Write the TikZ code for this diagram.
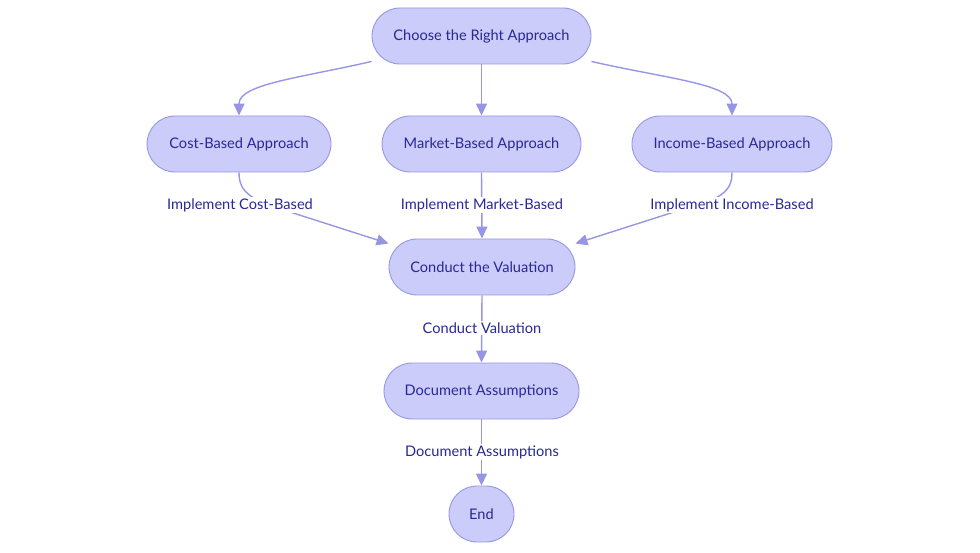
\documentclass[tikz,border=0pt]{standalone}
\usepackage{fontspec}
\setmainfont{Lato}
\usetikzlibrary{arrows.meta}
\definecolor{nodefill}{RGB}{204,204,250}
\definecolor{nodeline}{RGB}{150,150,228}
\definecolor{txt}{RGB}{40,40,150}
\definecolor{edge}{RGB}{150,150,228}
\tikzset{
  box/.style={draw=nodeline, fill=nodefill, line width=0.9pt, rounded corners=28pt,
    minimum height=56pt, inner sep=0pt, text=txt, font=\fontsize{14.6}{16}\selectfont},
  lbl/.style={fill=white, inner sep=1.5pt, text=txt, font=\fontsize{14.6}{16}\selectfont},
  conn/.style={draw=edge, line width=1.4pt, -{Triangle[length=12pt,width=11pt]}},
  seg/.style={draw=edge, line width=1.4pt}
}
\begin{document}
\begin{tikzpicture}[x=1pt,y=-1pt]
\useasboundingbox (0,0) rectangle (980,553);
\node[box, minimum width=219pt] (choose) at (481.5,36) {Choose the Right Approach};
\node[box, minimum width=184pt] (cost) at (239,144) {Cost-Based Approach};
\node[box, minimum width=199pt] (market) at (481.5,144) {Market-Based Approach};
\node[box, minimum width=200pt] (income) at (732,144) {Income-Based Approach};
\node[box, minimum width=186pt] (conduct) at (482,267) {Conduct the Valuation};
\node[box, minimum width=195pt] (doc) at (481.5,391) {Document Assumptions};
\node[box, minimum width=65pt] (end) at (481.5,514) {End};

\coordinate (cs) at ([yshift=3pt]choose.south west);
\coordinate (ce) at ([yshift=3pt]choose.south east);
\coordinate (cw) at ([yshift=-5pt]conduct.north west);
\coordinate (cee) at ([yshift=-5pt]conduct.north east);

% top edges
\draw[conn] (cs) .. controls (300,78) and (239,84) .. (cost.north);
\draw[conn] (choose.south) -- (market.north);
\draw[conn] (ce) .. controls (663,78) and (732,84) .. (income.north);

% labels (placed first for naming)
\node[lbl] (l1) at (240,205) {Implement Cost-Based};
\node[lbl] (l2) at (482,205) {Implement Market-Based};
\node[lbl] (l3) at (732,205) {Implement Income-Based};
\node[lbl] (l4) at (482,328) {Conduct Valuation};
\node[lbl] (l5) at (482,452) {Document Assumptions};

% middle edges
\draw[seg] (cost.south) .. controls (239,192) and (250,200) .. (290,212);
\draw[conn] (290,212) -- (cw);
\draw[seg] (income.south) .. controls (732,192) and (721,200) .. (674,212);
\draw[conn] (674,212) -- (cee);
\draw[conn] (market.south) -- (conduct.north);
\draw[conn] (conduct.south) -- (doc.north);
\draw[conn] (doc.south) -- (end.north);

% redraw labels over lines
\node[lbl] at (l1) {Implement Cost-Based};
\node[lbl] at (l2) {Implement Market-Based};
\node[lbl] at (l3) {Implement Income-Based};
\node[lbl] at (l4) {Conduct Valuation};
\node[lbl] at (l5) {Document Assumptions};
\end{tikzpicture}
\end{document}
